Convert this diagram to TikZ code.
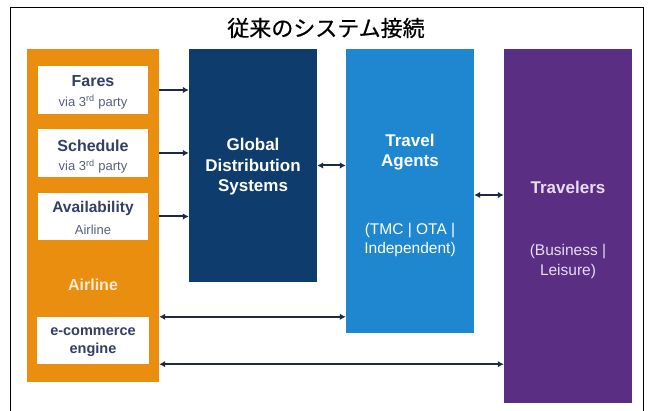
\documentclass[tikz,border=0pt]{standalone}
\usepackage{fontspec}
\setmainfont{Liberation Sans}
\newfontfamily\cjk[FakeBold=0.6]{Noto Sans CJK JP}
\usetikzlibrary{arrows.meta,calc}
\definecolor{airorange}{HTML}{EA8E10}
\definecolor{gdsblue}{HTML}{0E3C6C}
\definecolor{tablue}{HTML}{1E87CF}
\definecolor{travpurple}{HTML}{5A2E82}
\definecolor{boxtext}{HTML}{343E66}
\definecolor{subtext}{HTML}{56607E}
\definecolor{arrowcol}{HTML}{1E2A44}
\definecolor{lav}{HTML}{E6DDF0}
\definecolor{cream}{HTML}{FCEBD2}
\tikzset{
  colbox/.style={draw=none, minimum width=128pt, align=center, inner sep=0pt},
  whitebox/.style={fill=white, draw=none, minimum width=110pt, align=center, inner sep=0pt, text=boxtext},
  boxttl/.style={text=boxtext, font=\fontsize{16}{18}\selectfont\bfseries, inner sep=0pt},
  boxsub/.style={text=subtext, font=\fontsize{13}{15}\selectfont, inner sep=0pt},
  conn/.style={draw=arrowcol, line width=2pt, -{Latex[length=6pt,width=6.5pt]}},
  biconn/.style={draw=arrowcol, line width=2pt, {Latex[length=6pt,width=6.5pt]}-{Latex[length=6pt,width=6.5pt]}},
  ttl/.style={font=\fontsize{17}{20.5}\selectfont\bfseries, align=center},
}
\begin{document}
\begin{tikzpicture}[x=1pt,y=-1pt]
\useasboundingbox (0,0) rectangle (651,411);
\fill[white] (0,0) rectangle (651,411);
\draw[black, line width=1pt] (10,411) -- (10,8) -- (643,8) -- (643,411);
\node[font=\cjk\fontsize{22}{24}\selectfont] (title) at (326,28) {従来のシステム接続};

% Airline column
\node[colbox, fill=airorange, minimum width=132pt, minimum height=333pt] (airline) at (93,215.5) {};
\node[whitebox, minimum height=48pt] (fares) at (93,90) {};
\node[boxttl] (faresT) at (93,81) {Fares};
\node[boxsub] (faresS) at (93,102) {via 3\textsuperscript{rd} party};
\node[whitebox, minimum height=48pt] (sched) at (93,153) {};
\node[boxttl] (schedT) at (93,146) {Schedule};
\node[boxsub] (schedS) at (93,166.5) {via 3\textsuperscript{rd} party};
\node[whitebox, minimum height=47pt] (avail) at (93,216.5) {};
\node[boxttl, font=\fontsize{15.5}{18}\selectfont\bfseries] (availT) at (93,208.5) {Availability};
\node[boxsub] (availS) at (93,229.5) {Airline};
\node[text=cream, font=\fontsize{16}{18}\selectfont\bfseries] (airlbl) at (93,285) {Airline};
\node[whitebox, minimum width=112pt, minimum height=47pt] (ecom) at (93,340.5) {};
\node[boxttl, font=\fontsize{14.5}{17}\selectfont\bfseries] (ecomT) at (93,332) {e-commerce};
\node[boxttl, font=\fontsize{14.5}{17}\selectfont\bfseries] (ecomS) at (93,350) {engine};

% GDS
\node[colbox, fill=gdsblue, minimum height=233pt] (gds) at (253,165.5) {};
\node[text=white, ttl] (gdslbl) at (253,167) {Global\\Distribution\\Systems};

% Travel agents
\node[colbox, fill=tablue, minimum height=284pt] (ta) at (410,191) {};
\node[text=white, ttl] (talbl) at (410,152) {Travel\\Agents};
\node[text=white, font=\fontsize{15.5}{18.5}\selectfont, align=center] (tasub) at (410,240) {(TMC | OTA |\\Independent)};

% Travelers
\node[colbox, fill=travpurple, minimum height=354pt] (trav) at (568,226) {};
\node[text=lav, ttl] (travlbl) at (568,187) {Travelers};
\node[text=lav, font=\fontsize{15.5}{20}\selectfont, align=center] (travsub) at (568,261) {(Business |\\Leisure)};

% connectors
\draw[conn] (fares -| airline.east) -- (fares -| gds.west);
\draw[conn] (sched -| airline.east) -- (sched -| gds.west);
\draw[conn] (avail -| airline.east) -- (avail -| gds.west);
\draw[biconn] (gds.east) -- (gds.east -| ta.west);
\coordinate (tamid) at ($(ta.east)+(0,4)$);
\draw[biconn] (tamid) -- (tamid -| trav.west);
\draw[biconn] (ecom.north -| airline.east) -- (ecom.north -| ta.west);
\draw[biconn] (ecom.south -| airline.east) -- (ecom.south -| trav.west);
\end{tikzpicture}
\end{document}
